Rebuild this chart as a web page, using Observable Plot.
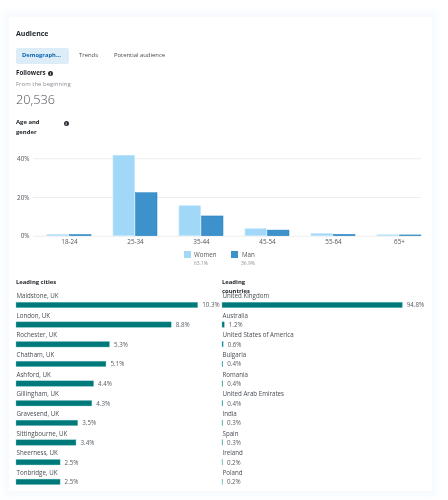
<!DOCTYPE html>
<html><head><meta charset="utf-8">
<script src="https://cdn.jsdelivr.net/npm/d3@7"></script>
<script src="https://cdn.jsdelivr.net/npm/@observablehq/plot@0.6"></script>
<style>
html,body{margin:0;padding:0;background:#fff;}
body{width:448px;height:500px;position:relative;overflow:hidden;font-family:"Open Sans",sans-serif;color:#3a3f45;}
#all{position:absolute;left:0;top:0;width:448px;height:500px;filter:blur(0.3px);}
#bg{position:absolute;left:3px;top:10px;width:435px;height:487px;background:#f7fbff;filter:blur(3px);}
#card{position:absolute;left:9px;top:17px;width:423px;height:474px;background:#fff;}
.t{position:absolute;white-space:nowrap;line-height:1;}
svg{position:absolute;left:0;top:0;overflow:visible;}
#tab{position:absolute;left:16px;top:48px;width:53px;height:16px;background:#dcedf8;border-radius:2px;}
.sw{position:absolute;width:7px;height:7px;}
</style></head><body>
<div id="all">
<div id="bg"></div><div id="card"></div>
<div id="tab"></div>
<div id="age"></div><div id="cities"></div><div id="countries"></div>
<div id="text"></div>
</div>
<script>
const ageGroups = ["18-24","25-34","35-44","45-54","55-64","65+"];
const women = [0.7,41.6,15.5,3.6,1.1,0.5];
const men = [0.6,22.2,10.2,2.9,0.7,0.4];
const sexes = ["Women","Man"];
const sexTotals = ["63.1%","36.9%"];
const cities = ["Maidstone, UK","London, UK","Rochester, UK","Chatham, UK","Ashford, UK","Gillingham, UK","Gravesend, UK","Sittingbourne, UK","Sheerness, UK","Tonbridge, UK"];
const cityValues = [10.3,8.8,5.3,5.1,4.4,4.3,3.5,3.4,2.5,2.5];
const countries = ["United Kingdom","Australia","United States of America","Bulgaria","Romania","United Arab Emirates","India","Spain","Ireland","Poland"];
const countryValues = [94.8,1.2,0.6,0.4,0.4,0.4,0.3,0.3,0.2,0.2];
const font = "Open Sans";

const rowsOf = (vals)=>ageGroups.map((a,i)=>({age:a,v:vals[i]}));
const womenColor="#a2d8f7", manColor="#3d92cc";
const agePlot = Plot.plot({
  width:448,height:236,marginTop:0,marginBottom:0,marginLeft:33,marginRight:27,
  style:{fontFamily:font,fontSize:"6.3px",color:"#50565c",background:"transparent",overflow:"visible"},
  x:{domain:ageGroups,range:[47,421],paddingInner:1/3,paddingOuter:0,round:false,label:null,axis:null},
  y:{domain:[0,40],range:[235.7,158.3],label:null,axis:null},
  marks:[
    Plot.ruleY([0,20,40],{stroke:"#eceded",strokeWidth:1}),
    Plot.barY(rowsOf(women),{x:"age",y:"v",fill:womenColor,stroke:"#c5e7fa",strokeWidth:0.7,insetRight:22.5}),
    Plot.barY(rowsOf(men),{x:"age",y:"v",fill:manColor,stroke:"#1f7fc0",strokeWidth:0.5,insetLeft:22.5}),
    Plot.axisY({ticks:[0,20,40],tickFormat:d=>d+"%",tickSize:0,tickPadding:4,fontSize:6.3,label:null}),
    Plot.axisX({tickSize:0,tickPadding:3,fontSize:6.3,label:null})
  ]
});
document.getElementById("age").append(agePlot);

function hbars(names,vals,maxPx,left,id){
  const rows = names.map((n,i)=>({name:n,v:vals[i]}));
  const p = Plot.plot({
    width:448,height:215,marginTop:0,marginBottom:0,marginLeft:0,marginRight:0,
    style:{fontFamily:font,fontSize:"6.2px",background:"transparent",overflow:"visible"},
    x:{domain:[0,vals[0]],range:[left,left+maxPx],axis:null},
    y:{domain:names,range:[302.2,484.6].map(d=>d-285),paddingInner:0.72,paddingOuter:0,round:false,axis:null,label:null},
    marks:[
      Plot.barX(rows,{x:"v",y:"name",fill:"#00797b",stroke:"#7cc4c4",strokeWidth:0.4}),
      Plot.text(rows,{x:()=>0,y:"name",text:"name",textAnchor:"start",dy:-9.3,fill:"#474c52",fontSize:6.2}),
      Plot.text(rows,{x:"v",y:"name",text:d=>d.v.toFixed(1)+"%",textAnchor:"start",dx:4,fill:"#5a6066",fontSize:6.2})
    ]
  });
  p.style.top="285px";
  document.getElementById(id).append(p);
}
hbars(cities,cityValues,181.7,16,"cities");
hbars(countries,countryValues,180.3,222,"countries");

const T=(s,x,cy,size,color,weight)=>{const e=document.createElement("div");e.className="t";e.textContent=s;e.style.cssText=`left:${x}px;top:${cy-size/2}px;font-size:${size}px;color:${color};font-weight:${weight||400}`;document.getElementById("text").append(e);};
T("Audience",16,33,7,"#1d2226",700);
T("Demograph...",22,56,5.8,"#0a66b0",700);
T("Trends",79,56,5.9,"#444a50");
T("Potential audience",114,56,5.9,"#444a50");
T("Followers",16,73,6.2,"#1d2226",700);
T("From the beginning",16,84,6,"#8b9095");
T("20,536",16,99,12.7,"#4a4f55",300);
T("Age and",16,123,5.9,"#1d2226",700);
T("gender",16,132.5,5.9,"#1d2226",700);
T("Leading cities",16,282.7,5.9,"#1d2226",700);
T("Leading",222,282.7,5.9,"#1d2226",700);
T("countries",222,292,5.9,"#1d2226",700);
const sw=(x,c)=>{const e=document.createElement("div");e.className="sw";e.style.cssText=`left:${x}px;top:251px;background:${c};`;document.getElementById("text").append(e);};
sw(184,womenColor);sw(231,manColor);
T("Women",194,254.7,6.2,"#50565c");T("Man",242,254.7,6.2,"#50565c");
T(sexTotals[0],194,263,4.9,"#8b9095");T(sexTotals[1],241,263,4.9,"#8b9095");
for(const [x,y] of [[48,70.5],[63.5,120.5]]){const e=document.createElement("div");e.style.cssText=`position:absolute;left:${x}px;top:${y}px;width:5px;height:5px;border-radius:50%;background:#2b3035;color:#fff;font-size:4px;line-height:5px;text-align:center;font-weight:700`;e.textContent="i";document.getElementById("text").append(e);}
</script>
</body></html>
